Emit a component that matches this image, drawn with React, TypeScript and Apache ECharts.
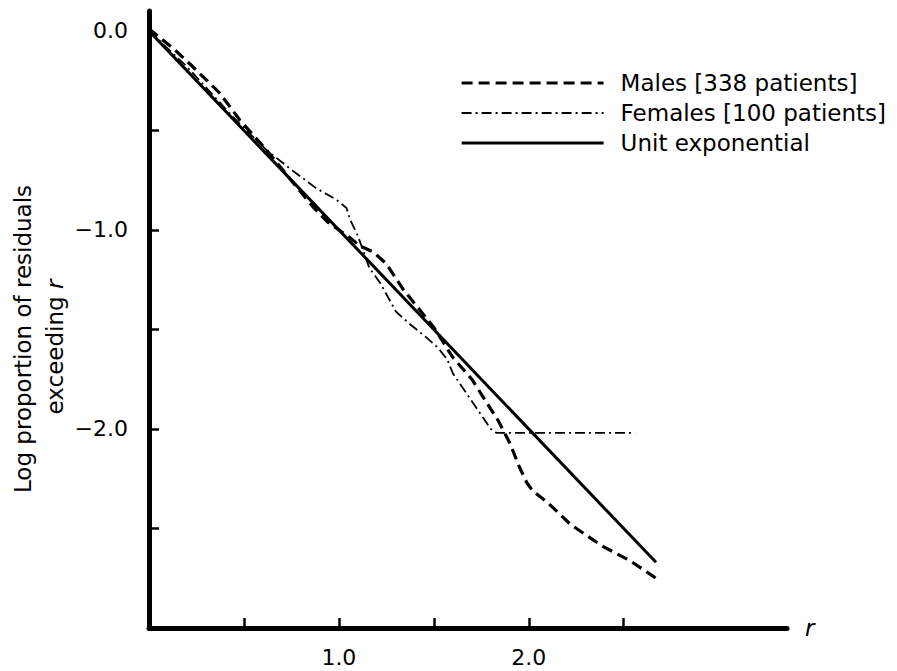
import React, { useEffect, useRef } from "react";
import * as echarts from "echarts";

const FONT = "DejaVu Sans";

const malesData: number[][] = [
  [0, 0.01], [0.13, -0.09], [0.22, -0.17], [0.37, -0.31], [0.48, -0.45],
  [0.62, -0.6], [0.74, -0.74], [0.86, -0.88], [0.94, -0.96], [1.0, -1.0],
  [1.06, -1.04], [1.11, -1.08], [1.18, -1.11], [1.25, -1.17], [1.34, -1.3],
  [1.5, -1.49], [1.6, -1.64], [1.7, -1.75], [1.78, -1.87], [1.84, -1.96],
  [1.9, -2.07], [1.95, -2.19], [1.99, -2.27], [2.02, -2.31], [2.1, -2.37],
  [2.22, -2.48], [2.39, -2.59], [2.53, -2.66], [2.67, -2.75],
];

const femalesData: number[][] = [
  [0, 0], [0.2, -0.18], [0.45, -0.44], [0.62, -0.6], [0.74, -0.69],
  [0.88, -0.79], [0.99, -0.85], [1.04, -0.89], [1.06, -0.95], [1.1, -1.03],
  [1.16, -1.19], [1.22, -1.27], [1.3, -1.41], [1.37, -1.47], [1.46, -1.54],
  [1.52, -1.59], [1.57, -1.65], [1.6, -1.72], [1.8, -2.0], [1.83, -2.02],
  [2.56, -2.02],
];

const unitData: number[][] = [[0, 0], [2.67, -2.67]];

const seriesNames = ["Males [338 patients]", "Females [100 patients]", "Unit exponential"];

const xTicks = [0.5, 1, 1.5, 2, 2.5];
const xLabels = [1, 2];
const yTicks = [-0.5, -1, -1.5, -2, -2.5];
const yLabels = [0, -1, -2];

const fmt = (v: number) => (v < 0 ? "\u2212" + Math.abs(v).toFixed(1) : v.toFixed(1));

export default function App() {
  const ref = useRef<HTMLDivElement>(null);
  useEffect(() => {
    if (!ref.current) return;
    const chart = echarts.init(ref.current, null, { renderer: "svg" });
    chart.setOption({
      animation: false,
      backgroundColor: "#fff",
      grid: { left: 149, right: 110, top: 11, bottom: 43, containLabel: false },
      legend: {
        left: 455,
        top: 66,
        orient: "vertical",
        itemWidth: 142,
        itemHeight: 14,
        itemGap: 6,
        itemStyle: { color: "rgba(0,0,0,0)", borderColor: "rgba(0,0,0,0)", borderWidth: 0 },
        textStyle: { fontFamily: FONT, fontSize: 23, color: "#000", padding: [0, 0, 0, 12], lineHeight: 24 },
        data: [
          { name: seriesNames[0], lineStyle: { width: 3.2, type: [11, 6], color: "#000" } },
          { name: seriesNames[1], lineStyle: { width: 2, type: [10, 4, 2, 4], color: "#000" } },
          { name: seriesNames[2], lineStyle: { width: 3, type: "solid", color: "#000" } },
        ],
      },
      xAxis: {
        type: "value",
        min: 0,
        max: 3.36,
        name: "r",
        nameLocation: "end",
        nameGap: 18,
        nameTextStyle: { fontFamily: FONT, fontSize: 23, fontStyle: "italic", color: "#000", verticalAlign: "middle" },
        axisLine: { onZero: false, lineStyle: { color: "#000", width: 5 } },
        axisTick: { show: true, inside: true, length: 10, customValues: xTicks, lineStyle: { color: "#000", width: 2.5 } },
        axisLabel: { customValues: xLabels, formatter: (v: number) => fmt(v), margin: 18, fontFamily: FONT, fontSize: 22, color: "#000" },
        splitLine: { show: false },
      },
      yAxis: {
        type: "value",
        min: -3,
        max: 0.1,
        axisLine: { show: true, onZero: false, lineStyle: { color: "#000", width: 5 } },
        axisTick: { show: true, inside: true, length: 10, customValues: yTicks, lineStyle: { color: "#000", width: 2.5 } },
        axisLabel: { customValues: yLabels, formatter: (v: number) => fmt(v), margin: 21, fontFamily: FONT, fontSize: 22, color: "#000" },
        splitLine: { show: false },
      },
      graphic: [
        {
          type: "text",
          x: 23,
          y: 339,
          rotation: Math.PI / 2,
          style: { text: "Log proportion of residuals", fontFamily: FONT, fontSize: 23, fill: "#000", align: "center", verticalAlign: "middle" },
        },
        {
          type: "text",
          x: 55,
          y: 347,
          rotation: Math.PI / 2,
          style: {
            text: "exceeding {it|r}",
            fontFamily: FONT,
            fontSize: 23,
            fill: "#000",
            align: "center",
            verticalAlign: "middle",
            rich: { it: { fontFamily: FONT, fontSize: 23, fontStyle: "italic", fill: "#000" } },
          },
        },
      ],
      series: [
        {
          name: seriesNames[0],
          type: "line",
          data: malesData,
          symbol: "none",
          lineStyle: { color: "#000", width: 3.2, type: [11, 6] },
          itemStyle: { color: "#000" },
        },
        {
          name: seriesNames[1],
          type: "line",
          data: femalesData,
          symbol: "none",
          lineStyle: { color: "#000", width: 1.8, type: [10, 4, 2, 4] },
          itemStyle: { color: "#000" },
        },
        {
          name: seriesNames[2],
          type: "line",
          data: unitData,
          symbol: "none",
          lineStyle: { color: "#000", width: 3, type: "solid" },
          itemStyle: { color: "#000" },
        },
      ],
    });
    return () => chart.dispose();
  }, []);
  return <div ref={ref} style={{ width: 897, height: 671, position: "absolute", left: 0, top: 0 }} />;
}
